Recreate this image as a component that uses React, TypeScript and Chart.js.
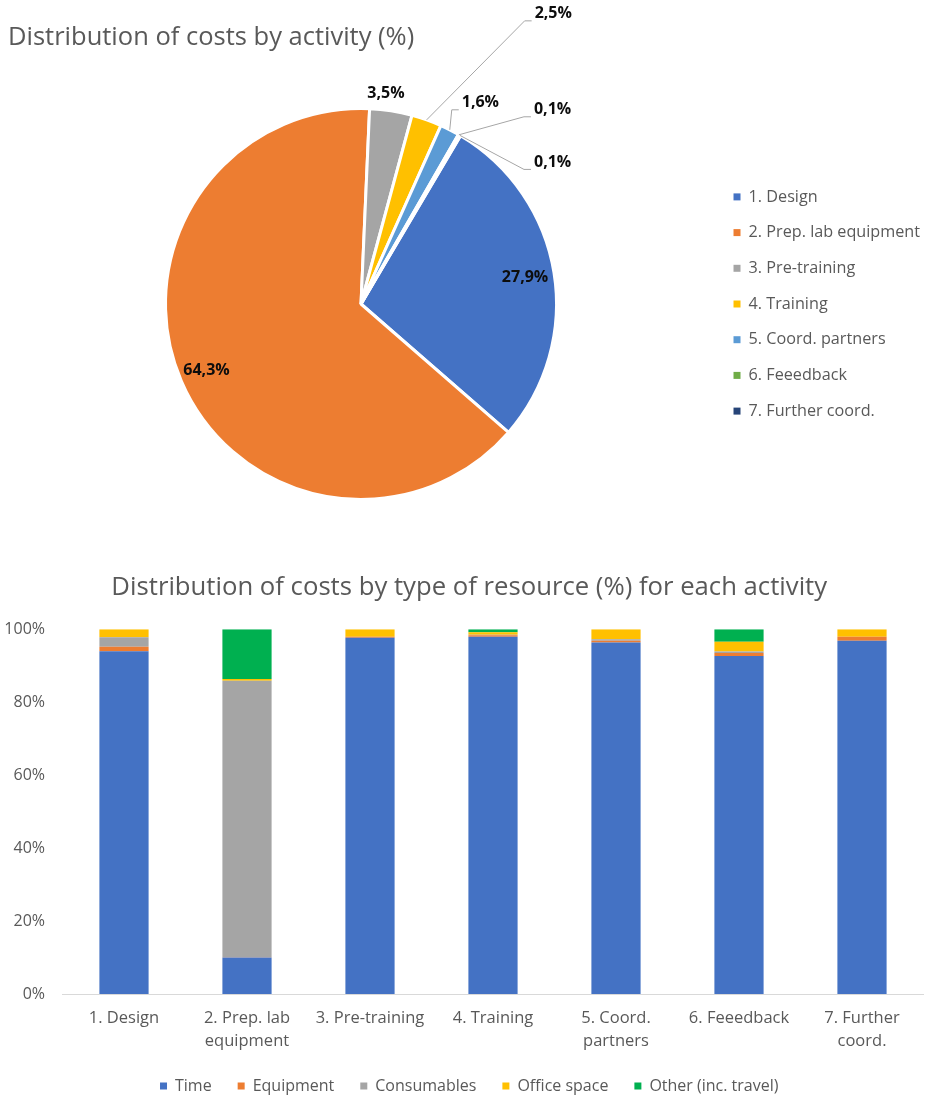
import { useEffect, useRef } from 'react'
import { Chart, registerables } from 'chart.js'

Chart.register(...registerables)

const FONT = "'Open Sans', sans-serif"
const GREY = '#595959'

Chart.defaults.font.family = FONT
Chart.defaults.color = GREY

// share of total cost per activity (pie)
const activities = [
  '1. Design',
  '2. Prep. lab equipment',
  '3. Pre-training',
  '4. Training',
  '5. Coord. partners',
  '6. Feeedback',
  '7. Further coord.',
]
const activityShare = [27.9, 64.3, 3.5, 2.5, 1.6, 0.1, 0.1]
const activityColors = ['#4472C4', '#ED7D31', '#A5A5A5', '#FFC000', '#5B9BD5', '#70AD47', '#264478']

// resource mix inside each activity (stacked bars)
const activityTicks = [
  ['1. Design'],
  ['2. Prep. lab', 'equipment'],
  ['3. Pre-training'],
  ['4. Training'],
  ['5. Coord.', 'partners'],
  ['6. Feeedback'],
  ['7. Further', 'coord.'],
]
const resources = ['Time', 'Equipment', 'Consumables', 'Office space', 'Other (inc. travel)']
const timeShare = [94.0, 10.0, 97.7, 98.0, 96.4, 92.7, 96.9]
const equipmentShare = [1.2, 0.1, 0.3, 0.4, 0.5, 0.8, 1.1]
const consumablesShare = [2.6, 75.8, 0.0, 0.1, 0.4, 0.4, 0.0]
const officeShare = [2.2, 0.5, 2.0, 0.7, 2.7, 2.7, 2.0]
const otherShare = [0.0, 13.6, 0.0, 0.8, 0.0, 3.4, 0.0]
const resourceColors = ['#4472C4', '#ED7D31', '#A5A5A5', '#FFC000', '#00B050']
const percentTicks = [0, 20, 40, 60, 80, 100]

// where each pie value label goes: inside (fraction of radius) or offset from the slice edge
const labelPlacement = [
  { inside: 0.85 },
  { inside: 0.86 },
  { dx: -5, dy: -17, leader: false },
  { dx: 108, dy: -106, leader: true },
  { dx: 12, dy: -27, leader: true },
  { dx: 75, dy: -25, leader: true },
  { dx: 74, dy: 27, leader: true },
]

const fmt = (v: number) => v.toFixed(1).replace('.', ',') + '%'

const pieLabels = {
  id: 'pieLabels',
  afterDatasetsDraw(chart: any) {
    const { ctx } = chart
    const meta = chart.getDatasetMeta(0)
    ctx.save()
    ctx.font = `bold 16px ${FONT}`
    ctx.fillStyle = '#0d0d0d'
    ctx.textBaseline = 'middle'
    meta.data.forEach((arc: any, i: number) => {
      const { x, y, startAngle, endAngle, outerRadius } = arc.getProps(
        ['x', 'y', 'startAngle', 'endAngle', 'outerRadius'],
        true
      )
      const mid = (startAngle + endAngle) / 2
      const place: any = labelPlacement[i]
      const text = fmt(activityShare[i])
      if (place.inside) {
        ctx.textAlign = 'center'
        ctx.fillText(
          text,
          x + Math.cos(mid) * outerRadius * place.inside,
          y + Math.sin(mid) * outerRadius * place.inside
        )
        return
      }
      const ax = x + Math.cos(mid) * outerRadius
      const ay = y + Math.sin(mid) * outerRadius
      const tx = ax + place.dx
      const ty = ay + place.dy
      if (place.leader) {
        ctx.strokeStyle = '#A6A6A6'
        ctx.lineWidth = 1
        ctx.beginPath()
        ctx.moveTo(ax, ay)
        ctx.lineTo(tx - 10, ty + 7)
        ctx.lineTo(tx - 3, ty + 7)
        ctx.stroke()
        ctx.textAlign = 'left'
      } else {
        ctx.textAlign = 'center'
      }
      ctx.fillText(text, tx, ty)
    })
    ctx.restore()
  },
}

// the y tick labels sit left of the layout padding; let the axis box reach the canvas edge so they are not clipped
const widenYAxis = {
  id: 'widenYAxis',
  afterLayout(chart: any) {
    chart.scales.y.left = 0
  },
}

function ActivityPie() {
  const canvasRef = useRef<HTMLCanvasElement>(null)

  useEffect(() => {
    const chart = new Chart(canvasRef.current!, {
      type: 'pie',
      data: {
        labels: activities,
        datasets: [
          {
            data: activityShare,
            backgroundColor: activityColors,
            borderColor: '#ffffff',
            borderWidth: 3,
          },
        ],
      },
      options: {
        animation: false,
        responsive: true,
        maintainAspectRatio: false,
        events: [],
        rotation: 30.6,
        layout: { padding: { left: 8, right: 5, top: 0, bottom: 40 } },
        plugins: {
          title: {
            display: true,
            text: 'Distribution of costs by activity (%)',
            align: 'start',
            color: GREY,
            font: { size: 25.5, weight: 'normal', lineHeight: 1.2 },
            padding: { top: 22.7, bottom: 53.7 },
          },
          legend: {
            position: 'right',
            fullSize: false,
            labels: {
              boxWidth: 7,
              boxHeight: 7,
              padding: 19.5,
              color: GREY,
              font: { size: 16.2 },
              generateLabels: (c: any) =>
                Chart.overrides.pie.plugins.legend.labels
                  .generateLabels(c)
                  .map((item: any) => ({ ...item, lineWidth: 0 })),
            },
          },
          tooltip: { enabled: false },
        },
      } as any,
      plugins: [pieLabels],
    })
    return () => chart.destroy()
  }, [])

  return <canvas ref={canvasRef} />
}

function ResourceBars() {
  const canvasRef = useRef<HTMLCanvasElement>(null)

  useEffect(() => {
    const series = [timeShare, equipmentShare, consumablesShare, officeShare, otherShare]
    const chart = new Chart(canvasRef.current!, {
      type: 'bar',
      data: {
        labels: activityTicks,
        datasets: resources.map((name, i) => ({
          label: name,
          data: series[i],
          backgroundColor: resourceColors[i],
          borderWidth: 0,
          barPercentage: 0.4,
          categoryPercentage: 1,
        })),
      },
      options: {
        animation: false,
        responsive: true,
        maintainAspectRatio: false,
        events: [],
        layout: { padding: { left: 15, right: 11.5, top: 0, bottom: 0 } },
        scales: {
          x: {
            stacked: true,
            grid: { display: false, drawTicks: false },
            border: { color: '#D9D9D9', width: 1 },
            afterFit: (scale: any) => {
              scale.height = 58
            },
            ticks: {
              color: GREY,
              font: { size: 16.5, lineHeight: 1.42 },
              padding: 12.6,
              maxRotation: 0,
              autoSkip: false,
            },
          },
          y: {
            stacked: true,
            min: 0,
            max: 100,
            grid: { display: false, drawTicks: false },
            border: { display: false },
            afterBuildTicks: (scale: any) => {
              scale.ticks = percentTicks.map((value) => ({ value }))
            },
            afterFit: (scale: any) => {
              scale.width = 47.5
            },
            ticks: {
              color: GREY,
              font: { size: 16 },
              padding: 17.5,
              callback: (v: any) => v + '%',
            },
          },
        },
        plugins: {
          title: {
            display: true,
            text: 'Distribution of costs by type of resource (%) for each activity',
            color: GREY,
            font: { size: 25.7, weight: 'normal', lineHeight: 1.2 },
            padding: { top: 31.6, bottom: 25.9 },
          },
          legend: {
            position: 'bottom',
            labels: {
              boxWidth: 7,
              boxHeight: 7,
              padding: 26,
              color: GREY,
              font: { size: 16 },
            },
          },
          tooltip: { enabled: false },
        },
      } as any,
      plugins: [widenYAxis],
    })
    return () => chart.destroy()
  }, [])

  return <canvas ref={canvasRef} />
}

export default function App() {
  return (
    <div
      style={{
        position: 'absolute',
        left: 0,
        top: 0,
        width: 935,
        height: 1099,
        overflow: 'hidden',
        background: '#ffffff',
      }}
    >
      <div style={{ position: 'absolute', left: 0, top: 0, width: 935, height: 541 }}>
        <ActivityPie />
      </div>
      <div style={{ position: 'absolute', left: 0, top: 541, width: 935, height: 563 }}>
        <ResourceBars />
      </div>
    </div>
  )
}
